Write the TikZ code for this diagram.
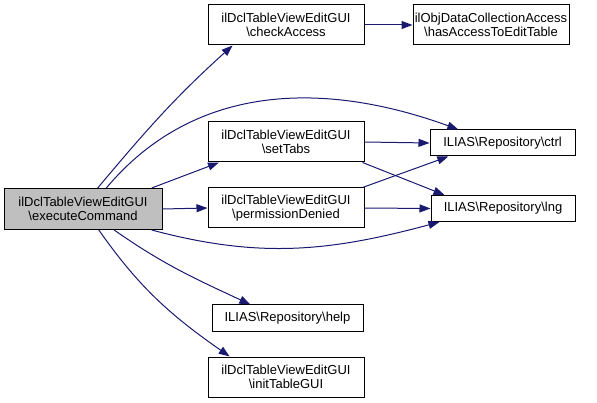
\documentclass[tikz,border=0pt]{standalone}
\usepackage{fontspec}
\setmainfont{Liberation Sans}
\usetikzlibrary{arrows.meta,positioning,calc}
\definecolor{cgedge}{HTML}{191970}
\definecolor{cgroot}{HTML}{BFBFBF}

\begin{document}
\begin{tikzpicture}[
    x=1pt, y=-1pt,
    font=\fontsize{13}{14.5}\selectfont,
    fn/.style={
        draw=black,
        fill=white,
        minimum width=156pt,
        minimum height=40pt,
        inner sep=1pt,
        align=center,
        line width=1pt
    },
    fnone/.style={
        fn,
        minimum height=26pt
    },
    root/.style={
        fn,
        fill=cgroot,
        minimum width=158pt,
        minimum height=41pt
    },
    call/.style={-{Triangle[length=11pt,width=8pt]},cgedge,line width=1pt}
]
\useasboundingbox (0,0) rectangle (597,403);

% Caller
\node[root] (exec) at (83,209) {ilDclTableViewEditGUI\\\textbackslash executeCommand};

% Direct callees
\node[fn] (check) at (286,25) {ilDclTableViewEditGUI\\\textbackslash checkAccess};
\node[fn] (tabs) at (286,142) {ilDclTableViewEditGUI\\\textbackslash setTabs};
\node[fn] (denied) at (286,208) {ilDclTableViewEditGUI\\\textbackslash permissionDenied};
\node[fnone,minimum width=151pt] (help) at (287.5,318) {ILIAS\textbackslash Repository\textbackslash help};
\node[fn] (init) at (286,377) {ilDclTableViewEditGUI\\\textbackslash initTableGUI};

% Second level
\node[fn] (edit) at (491,25) {ilObjDataCollectionAccess\\\textbackslash hasAccessToEditTable};
\node[fnone,minimum width=145pt] (ctrl) at (502.5,143) {ILIAS\textbackslash Repository\textbackslash ctrl};
\node[fnone,minimum width=144pt] (lng) at (503,208.5) {ILIAS\textbackslash Repository\textbackslash lng};

% Calls from executeCommand
\draw[call] (exec.55) to[out=50,in=222] (check.201);
\draw[call] (exec.42) to[out=50,in=160] (ctrl.163);
\draw[call] (exec.17) -- (tabs.197);
\draw[call] (exec.east) -- (denied.west);
\draw[call] (exec.-17) to[out=-15,in=195] (lng.192);
\draw[call] (exec.-34) to[out=-35,in=155] (help.160);
\draw[call] (exec.-53) to[out=-55,in=145] (init.160);

% Calls further on
\draw[call] (check.east) -- (edit.west);
\draw[call] (tabs.east) -- (ctrl.west);
\draw[call] (tabs.-15) -- (lng.167);
\draw[call] (denied.15) -- (ctrl.194);
\draw[call] (denied.east) -- (lng.west);

\end{tikzpicture}
\end{document}
